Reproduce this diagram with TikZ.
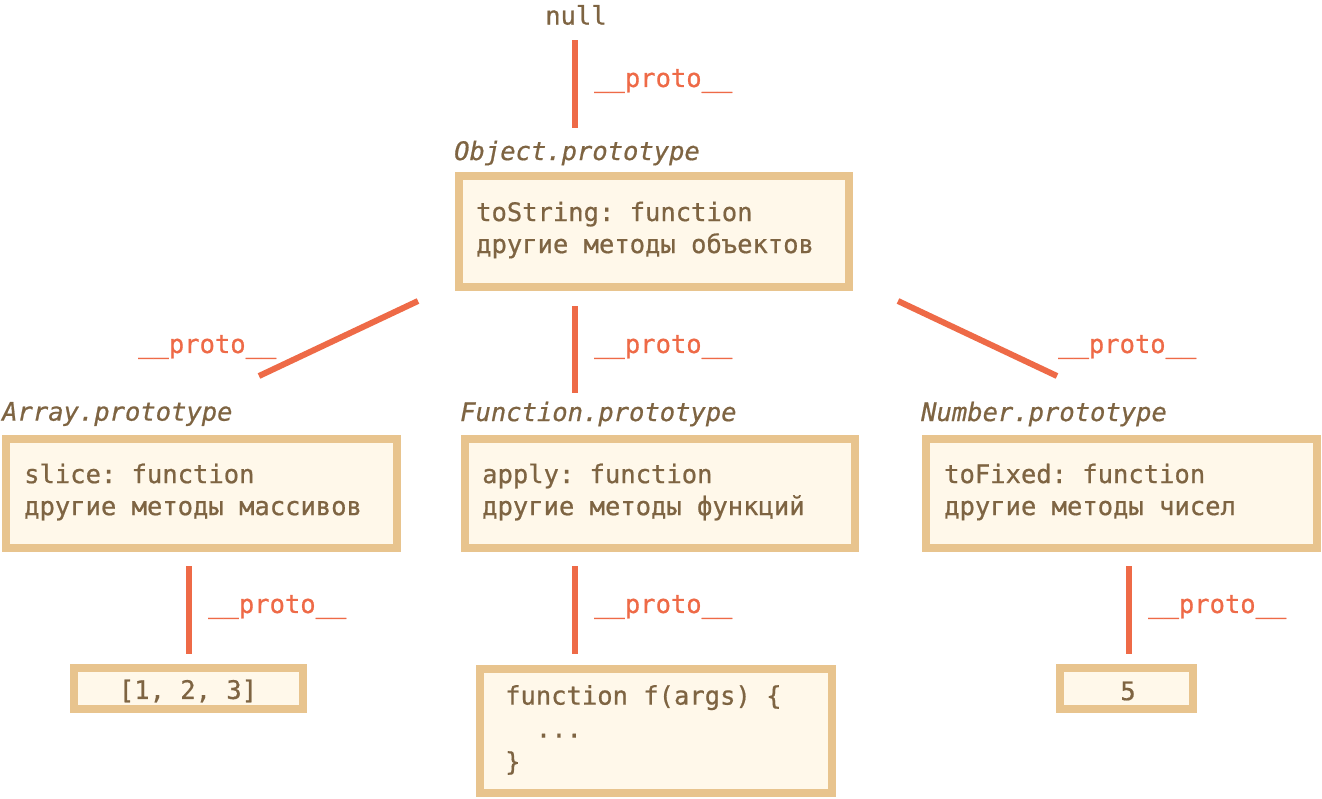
\documentclass[tikz,border=0pt]{standalone}
\usepackage{fontspec}
\newfontfamily\codefont[FakeBold=0.7]{DejaVu Sans Mono}
\definecolor{brd}{HTML}{E8C48E}
\definecolor{fil}{HTML}{FFF8EA}
\definecolor{txt}{HTML}{7E6442}
\definecolor{lnk}{HTML}{EE6A47}
\frenchspacing
\begin{document}
\begin{tikzpicture}[x=1pt,y=-1pt,
  box/.style={draw=brd,fill=fil,line width=8pt,inner sep=0pt,outer sep=0pt},
  code/.style={font=\codefont\frenchspacing\fontsize{25.5}{32}\selectfont,text=txt,inner sep=0pt,align=left},
  ttl/.style={font=\codefont\itshape\fontsize{25.5}{32}\selectfont,text=txt,inner sep=0pt,anchor=west},
  lbl/.style={font=\codefont\fontsize{25.5}{32}\selectfont,text=lnk,inner sep=0pt,anchor=west},
  link/.style={draw=lnk,line width=6pt}]
\useasboundingbox (0,0) rectangle (1322,798);
% top
\node[code] (null) at (576,15) {null};
\coordinate (l1a) at (575,40); \coordinate (l1b) at (575,128);
\draw[link] (l1a) -- (l1b);
\node[lbl] (p1) at (594,81) {\_\_proto\_\_};
% Object
\node[ttl] (objt) at (454,153) {Object.prototype};
\node[box,minimum width=390pt,minimum height=111pt] (obj) at (654,231.5) {};
\node[code,anchor=west] (objx) at (476,230) {toString: function\\другие методы объектов};
% middle links
\coordinate (l2a) at (418,301); \coordinate (l2b) at (259,376);
\draw[link] (l2a) -- (l2b);
\node[lbl] (p2) at (138,347) {\_\_proto\_\_};
\coordinate (l3a) at (575,306); \coordinate (l3b) at (575,393);
\draw[link] (l3a) -- (l3b);
\node[lbl] (p3) at (594,347) {\_\_proto\_\_};
\coordinate (l4a) at (898,301); \coordinate (l4b) at (1057,376);
\draw[link] (l4a) -- (l4b);
\node[lbl] (p4) at (1058,347) {\_\_proto\_\_};
% second row
\node[ttl] (arrt) at (2,414) {Array.prototype};
\node[box,minimum width=391pt,minimum height=109pt] (arr) at (201.5,493.5) {};
\node[code,anchor=west] (arrx) at (24,492) {slice: function\\другие методы массивов};
\node[ttl] (funt) at (460,414) {Function.prototype};
\node[box,minimum width=390pt,minimum height=109pt] (fun) at (660,493.5) {};
\node[code,anchor=west] (funx) at (482,492) {apply: function\\другие методы функций};
\node[ttl] (numt) at (921,414) {Number.prototype};
\node[box,minimum width=391pt,minimum height=109pt] (num) at (1121.5,493.5) {};
\node[code,anchor=west] (numx) at (944,492) {toFixed: function\\другие методы чисел};
% bottom links
\coordinate (l5a) at (189,566); \coordinate (l5b) at (189,654);
\draw[link] (l5a) -- (l5b);
\node[lbl] (p5) at (208,607) {\_\_proto\_\_};
\coordinate (l6a) at (575,566); \coordinate (l6b) at (575,654);
\draw[link] (l6a) -- (l6b);
\node[lbl] (p6) at (594,607) {\_\_proto\_\_};
\coordinate (l7a) at (1129,566); \coordinate (l7b) at (1129,654);
\draw[link] (l7a) -- (l7b);
\node[lbl] (p7) at (1148,607) {\_\_proto\_\_};
% bottom boxes
\node[box,minimum width=229pt,minimum height=41pt] (a123) at (188.5,688.5) {};
\node[code] (a123x) at (188,691) {[1, 2, 3]};
\node[box,minimum width=352pt,minimum height=124pt] (ff) at (656,731) {};
\node[code,anchor=west,font=\codefont\frenchspacing\fontsize{25.5}{33}\selectfont] (ffx) at (505,730) {function f(args) \{\\\ \ ...\\\}};
\node[box,minimum width=133pt,minimum height=41pt] (five) at (1126.5,688.5) {};
\node[code] (fivex) at (1128,691) {5};
\end{tikzpicture}
\end{document}
